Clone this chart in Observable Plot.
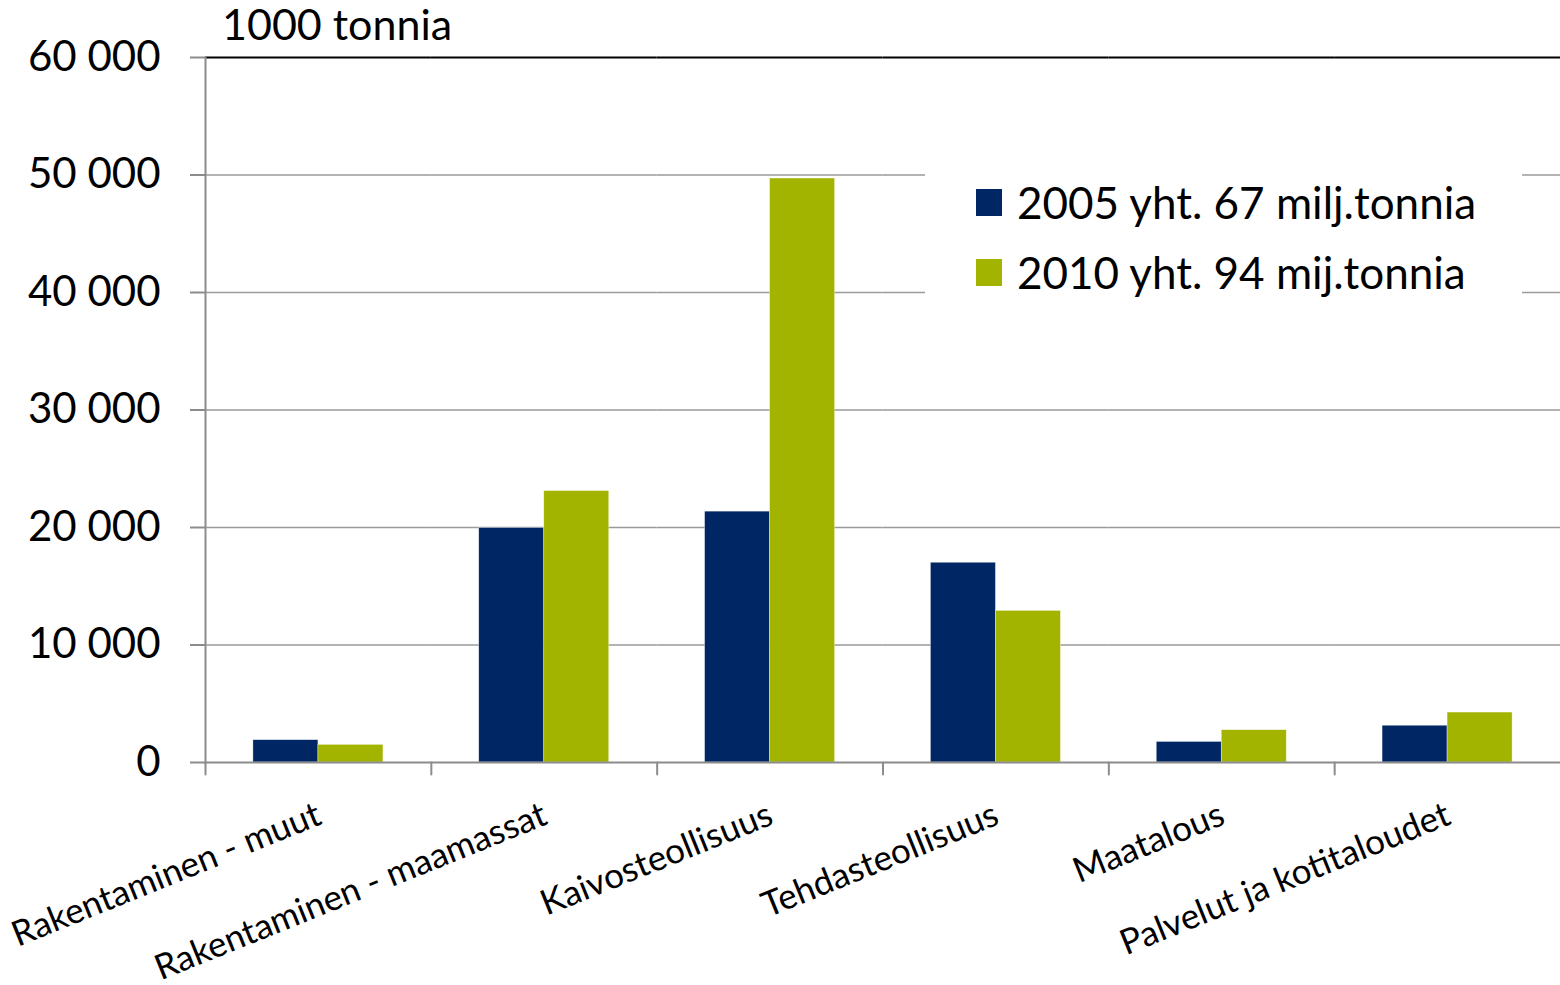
<!DOCTYPE html>
<html>
<head>
<meta charset="utf-8">
<script src="https://cdn.jsdelivr.net/npm/d3@7"></script>
<script src="https://cdn.jsdelivr.net/npm/@observablehq/plot@0.6"></script>
<style>
  html, body { margin: 0; padding: 0; background: white; }
  #wrap { position: relative; width: 1560px; height: 985px; font-family: Lato, sans-serif; }
  #title { position: absolute; left: 222px; top: 2px; font-size: 43px; line-height: 1; color: #000; white-space: nowrap; }
  #legend { position: absolute; left: 925px; top: 160px; width: 597px; height: 140px; background: white; }
  .row { position: absolute; left: 51px; display: flex; align-items: center; height: 50px; }
  .sw { width: 26px; height: 27px; margin-right: 15px; }
  .lab { font-size: 44px; line-height: 1; color: #000; white-space: nowrap; }
</style>
</head>
<body>
<div id="wrap">
  <div id="chart"></div>
  <div id="title"></div>
  <div id="legend"></div>
</div>
<script>
const categories = ["Rakentaminen - muut", "Rakentaminen - maamassat", "Kaivosteollisuus", "Tehdasteollisuus", "Maatalous", "Palvelut ja kotitaloudet"];
const years = ["2005", "2010"];
const values2005 = [1900, 19950, 21350, 17000, 1750, 3130];
const values2010 = [1500, 23100, 49700, 12900, 2750, 4250];
const seriesLabels = ["2005 yht. 67 milj.tonnia", "2010 yht. 94 mij.tonnia"];
const seriesColors = ["#002663", "#A2B400"];
const yTicks = [0, 10000, 20000, 30000, 40000, 50000, 60000];
const gridTicks = [10000, 20000, 30000, 40000, 50000];
const unitLabel = "1000 tonnia";

const data = [];
categories.forEach((c, i) => {
  data.push({category: c, year: years[0], value: values2005[i]});
  data.push({category: c, year: years[1], value: values2010[i]});
});

const fmt = d => d3.format(",")(d).replace(/,/g, "\u00a0");

const tickShape = {draw(ctx, l) { ctx.moveTo(0, 0); ctx.lineTo(0, l); }};

const chart = Plot.plot({
  width: 1560,
  height: 985,
  marginLeft: 205,
  marginRight: 0,
  marginTop: 57,
  marginBottom: 223,
  style: {fontFamily: "Lato, sans-serif", background: "white", color: "black"},
  fx: {domain: categories, padding: 0, round: false, axis: null},
  x: {domain: years, paddingInner: 0, paddingOuter: 0.737, round: false, axis: null},
  y: {domain: [0, 60000], axis: null},
  color: {domain: years, range: seriesColors},
  marks: [
    Plot.ruleY(gridTicks, {stroke: "#9a9a9a", strokeWidth: 1.6}),
    Plot.barY(data, {fx: "category", x: "year", y: "value", fill: "year", stroke: "white", strokeWidth: 0.6, strokeOpacity: 0.6}),
    Plot.ruleY([0], {stroke: "#8c8c8c", strokeWidth: 2}),
    Plot.ruleY([60000], {stroke: "#000", strokeWidth: 2}),
    Plot.frame({anchor: "left", fx: () => categories[0], stroke: "#8c8c8c", strokeWidth: 2}),
    Plot.vector(categories, {fx: d => d, frameAnchor: "bottom-left", length: 12, anchor: "start", shape: tickShape, stroke: "#8c8c8c", strokeWidth: 2}),
    Plot.axisY({ticks: yTicks, tickFormat: fmt, label: null, tickSize: 15, tickPadding: 30, fontSize: 42, stroke: "#8c8c8c", strokeWidth: 2, fill: "black"}),
    Plot.text(categories, {fx: d => d, text: d => d, frameAnchor: "bottom", rotate: -22, textAnchor: "end", lineAnchor: "bottom", dy: 61, dx: 5, fontSize: 35, fill: "black"})
  ]
});
document.getElementById("chart").appendChild(chart);

document.getElementById("title").textContent = unitLabel;
const legend = document.getElementById("legend");
seriesLabels.forEach((s, i) => {
  const row = document.createElement("div");
  row.className = "row";
  row.style.top = (17 + i * 70) + "px";
  const sw = document.createElement("div");
  sw.className = "sw";
  sw.style.background = seriesColors[i];
  const lab = document.createElement("div");
  lab.className = "lab";
  lab.textContent = s;
  row.appendChild(sw);
  row.appendChild(lab);
  legend.appendChild(row);
});
</script>
</body>
</html>
